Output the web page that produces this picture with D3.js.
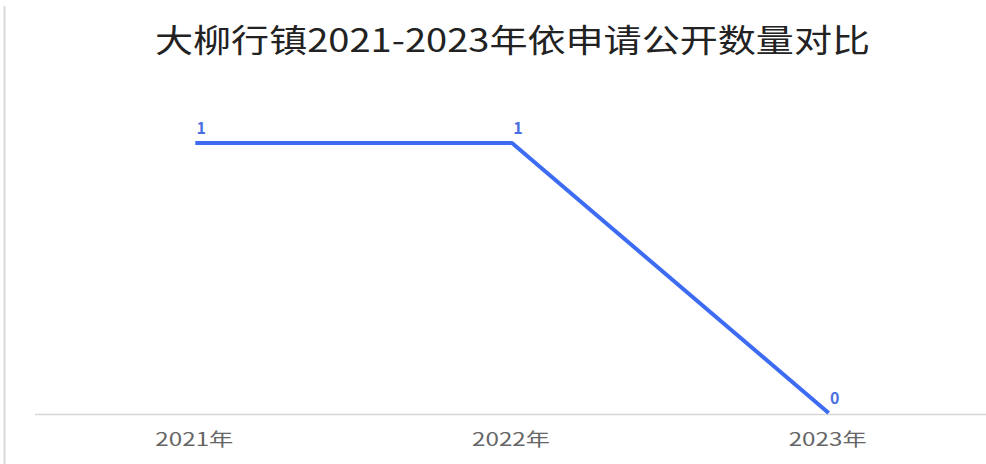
<!DOCTYPE html>
<html>
<head>
<meta charset="utf-8">
<script src="https://cdn.jsdelivr.net/npm/d3@7/dist/d3.min.js"></script>
<style>
	body { margin: 0; background: #fff; }
	text { font-family: "Noto Sans CJK SC", sans-serif; }
</style>
</head>
<body>
<script>

//Chart data
let titleText = "大柳行镇2021-2023年依申请公开数量对比";
let years = ["2021年", "2022年", "2023年"];
let counts = [1, 1, 0];

window.onload = drawChart();

function drawChart(){

	let width = 986;
	let height = 464;

	let svg = d3.select("body")
		.append("svg")
		.attr("width", width)
		.attr("height", height);

	//Thin frame line on the left edge
	svg.append("line")
		.attr("x1", 4.5).attr("x2", 4.5)
		.attr("y1", 6).attr("y2", height)
		.attr("stroke", "#d9d9d9")
		.attr("stroke-width", 2);

	//Title (the reference glyphs are a bit wide, so stretch to its width)
	svg.append("text")
		.attr("x", 155)
		.attr("y", 52)
		.attr("font-size", 32)
		.attr("fill", "#222")
		.attr("textLength", 715)
		.attr("lengthAdjust", "spacingAndGlyphs")
		.text(titleText);

	//Scales
	let x = d3.scaleBand()
		.domain(years)
		.range([37, 987]);

	let y = d3.scaleLinear()
		.domain([0, 1])
		.range([413, 143]);

	//X axis line
	svg.append("line")
		.attr("x1", 35).attr("x2", width)
		.attr("y1", 414.5).attr("y2", 414.5)
		.attr("stroke", "#d6d6d6")
		.attr("stroke-width", 1.5);

	//X axis labels
	svg.selectAll(".xLabel")
		.data(years)
		.enter()
		.append("text")
		.attr("class", "xLabel")
		.attr("x", d => x(d) + x.bandwidth() / 2 - 40)
		.attr("y", 446)
		.attr("font-size", 18)
		.attr("fill", "#666")
		.attr("textLength", 78)
		.attr("lengthAdjust", "spacingAndGlyphs")
		.text(d => d);

	//Line
	let line = d3.line()
		.x((d, i) => x(years[i]) + x.bandwidth() / 2)
		.y(d => y(d));

	svg.append("path")
		.datum(counts)
		.attr("d", line)
		.attr("fill", "none")
		.attr("stroke", "#3d6cf2")
		.attr("stroke-width", 4)
		.attr("stroke-linejoin", "round");

	//Value labels
	svg.selectAll(".valLabel")
		.data(counts)
		.enter()
		.append("text")
		.attr("class", "valLabel")
		.attr("x", (d, i) => x(years[i]) + x.bandwidth() / 2 + 6)
		.attr("y", d => y(d) - 9)
		.attr("text-anchor", "middle")
		.attr("font-size", 16)
		.attr("font-weight", "bold")
		.attr("fill", "#4a6fe0")
		.text(d => d);
};
</script>
</body>
</html>
